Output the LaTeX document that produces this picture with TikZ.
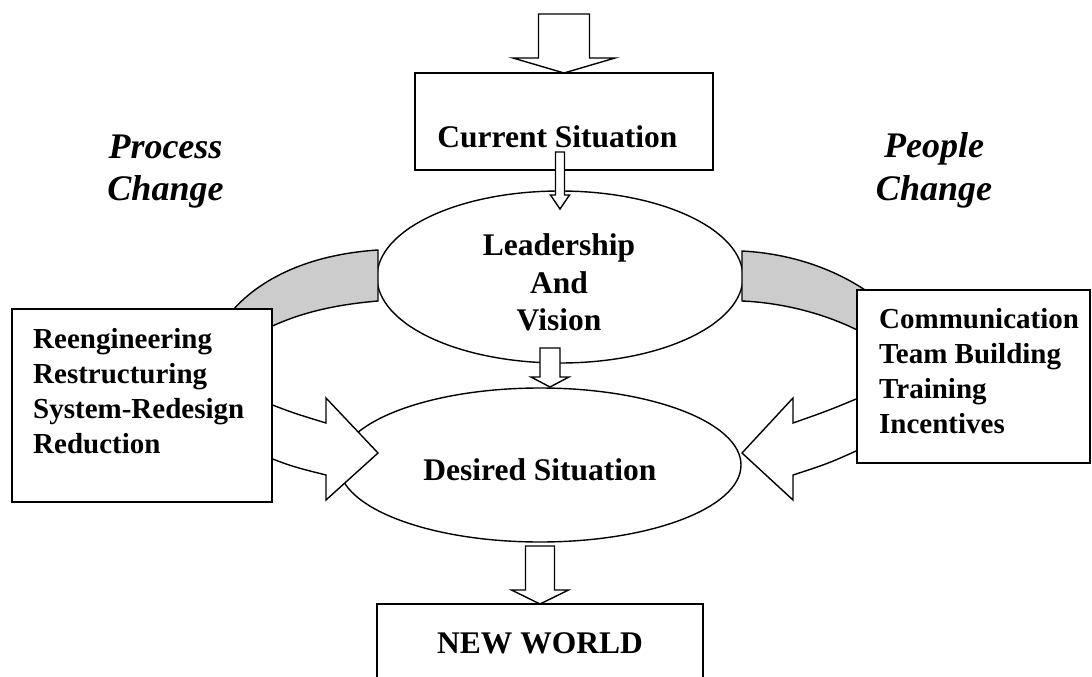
\documentclass[tikz,border=0pt]{standalone}
\usepackage{fontspec}
\setmainfont{Liberation Serif}
\usetikzlibrary{shapes.geometric,calc}

\definecolor{bandgray}{RGB}{204,204,204}

% Flecha de bloque vertical: inicio, punta, media cana, media cabeza, largo cabeza
\newcommand{\blockdown}[5]{%
  \draw[blockarr] ($(#1)+(-#3,0)$) -- ($(#2)+(-#3,-#5)$) -- ($(#2)+(-#4,-#5)$)
    -- (#2) -- ($(#2)+(#4,-#5)$) -- ($(#2)+(#3,-#5)$) -- ($(#1)+(#3,0)$) -- cycle;}

\tikzset{
  box/.style={draw, fill=white, line width=1.4pt, inner sep=0pt, outer sep=0pt},
  bubble/.style={draw, fill=white, ellipse, line width=1.4pt, inner sep=0pt, outer sep=0pt},
  band/.style={draw, fill=bandgray, line width=1.4pt},
  blockarr/.style={draw, fill=white, line width=1.4pt},
  maintext/.style={font=\fontsize{31.5}{37.5}\selectfont\bfseries, inner sep=0pt},
  listtext/.style={font=\fontsize{29}{35}\selectfont\bfseries, inner sep=0pt},
  sidetext/.style={font=\fontsize{36}{42}\selectfont\bfseries\itshape, inner sep=0pt}
}

\begin{document}
\begin{tikzpicture}[x=1pt, y=-1pt]
  \useasboundingbox (0,0) rectangle (1092,677);

  % Elipses centrales
  \node[bubble, minimum width=366pt, minimum height=172pt] (lead) at (560,277) {};
  \node[bubble, minimum width=402pt, minimum height=154pt] (des) at (540,465) {};

  % Bandas grises hacia los recuadros
  \begin{scope}[shift={(lead.west)}]
    \draw[band] (1,-27) .. controls (-77,-22) and (-127,8) .. (-152,43)
      -- (-122,58) .. controls (-87,38) and (-47,28) .. (1,24) -- cycle;
  \end{scope}
  \begin{scope}[shift={(lead.east)}]
    \draw[band] (-1,-26) .. controls (57,-23) and (107,-2) .. (142,28)
      -- (132,63) .. controls (97,41) and (47,26) .. (-1,24) -- cycle;
  \end{scope}

  % Flechas curvas hacia la situacion deseada
  \begin{scope}[shift={(des.west)}]
    \draw[blockarr] (-89,-69) .. controls (-49,-53) .. (-13,-42) -- (-13,-67)
      -- (39,-12) -- (-13,35) -- (-13,10) .. controls (-49,1) .. (-89,-15) -- cycle;
  \end{scope}
  \begin{scope}[shift={(des.east)}]
    \draw[blockarr] (139,-76) .. controls (89,-55) .. (52,-42) -- (52,-67)
      -- (1,-12) -- (52,35) -- (52,10) .. controls (89,-2) .. (139,-25) -- cycle;
  \end{scope}

  % Recuadros
  \node[box, minimum width=298pt, minimum height=97pt] (cur) at (564,121.5) {};
  \node[box, minimum width=260pt, minimum height=193pt] (proc) at (142,405.5) {};
  \node[box, minimum width=233pt, minimum height=173pt] (peop) at (973.5,376.5) {};
  \node[box, minimum width=326pt, minimum height=116pt] (new) at (540,662) {};

  % Textos
  \node[maintext, anchor=base] (curtxt) at (557.5,147) {Current Situation};
  \foreach \txt/\yb [count=\i] in {Leadership/255, And/293, Vision/330}
    \node[maintext, anchor=base] (lead\i) at (559,\yb) {\txt};
  \node[maintext, anchor=base] (destxt) at (540,480) {Desired Situation};
  \node[maintext, anchor=base] (newtxt) at (540,653) {NEW WORLD};
  \foreach \txt [count=\i] in {Reengineering, Restructuring, System-Redesign, Reduction}
    \node[listtext, anchor=base west] (proc\i) at (33,313+35*\i) {\txt};
  \foreach \txt [count=\i] in {Communication, Team Building, Training, Incentives}
    \node[listtext, anchor=base west] (peop\i) at (879,293+35*\i) {\txt};
  \foreach \txt/\yb [count=\i] in {Process/158, Change/200}
    \node[sidetext, anchor=base] (pcl\i) at (165.5,\yb) {\txt};
  \foreach \txt/\yb [count=\i] in {People/157, Change/200}
    \node[sidetext, anchor=base] (ppl\i) at (934,\yb) {\txt};

  % Flechas verticales
  \coordinate (a0) at ($(cur.north)+(0,-59)$);
  \blockdown{a0}{cur.north}{25.5}{51}{15}
  \coordinate (a1s) at ($(lead.north)+(0,-39)$);
  \coordinate (a1e) at ($(lead.north)+(0,18)$);
  \blockdown{a1s}{a1e}{4.5}{9.5}{14}
  \coordinate (a2s) at ($(des.north)+(10,-40)$);
  \coordinate (a2e) at ($(des.north)+(10,-1)$);
  \blockdown{a2s}{a2e}{10}{19}{10}
  \coordinate (a3s) at ($(new.north)+(0,-58)$);
  \blockdown{a3s}{new.north}{14.5}{28.5}{14}
\end{tikzpicture}
\end{document}
